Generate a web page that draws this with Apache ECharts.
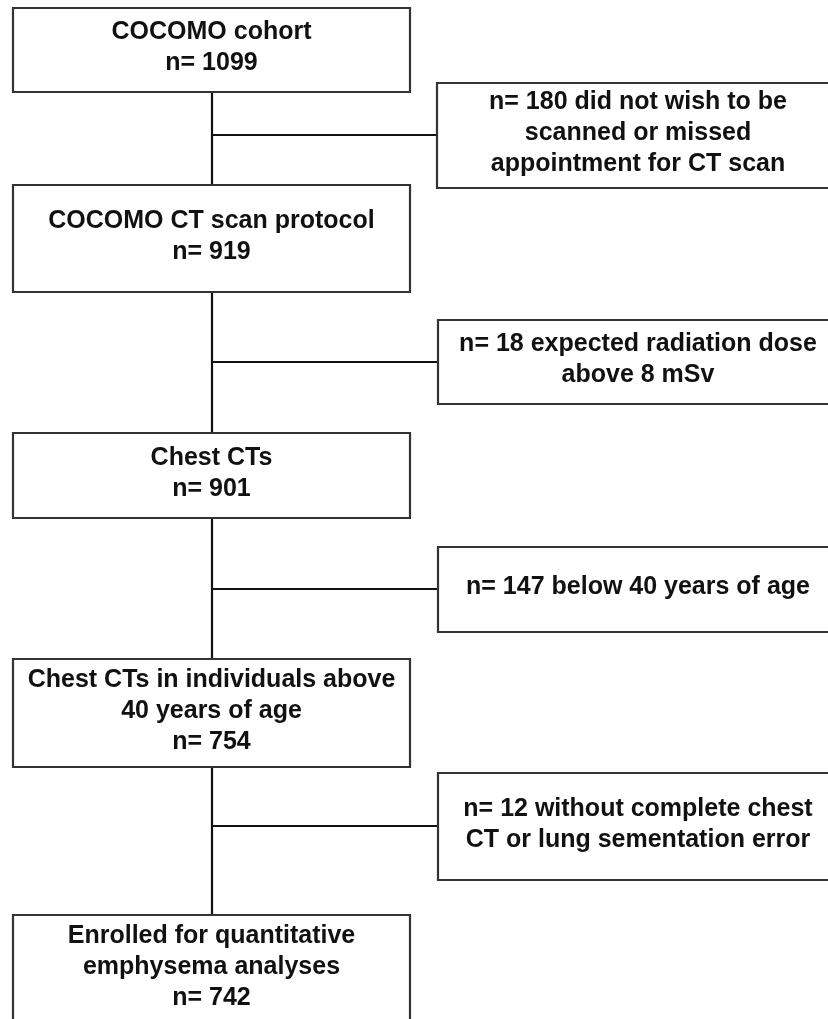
<!DOCTYPE html>
<html>
<head>
<meta charset="utf-8">
<script src="https://cdn.jsdelivr.net/npm/echarts@6/dist/echarts.min.js"></script>
<style>
  html, body { margin: 0; padding: 0; background: #fff; }
  #chart { width: 828px; height: 1019px; }
</style>
</head>
<body>
<div id="chart"></div>
<script>
// flow data
const stageTitles = [
  'COCOMO cohort',
  'COCOMO CT scan protocol',
  'Chest CTs',
  'Chest CTs in individuals above\n40 years of age',
  'Enrolled for quantitative\nemphysema analyses'
];
const stageCounts = [1099, 919, 901, 754, 742];
const excludedCounts = [180, 18, 147, 12];
const excludedReasons = [
  'did not wish to be\nscanned or missed\nappointment for CT scan',
  'expected radiation dose\nabove 8 mSv',
  'below 40 years of age',
  'without complete chest\nCT or lung sementation error'
];

// layout (pixel space of the page, y down)
const stageBoxes = [[13, 8, 410, 92], [13, 185, 410, 292], [13, 433, 410, 518], [13, 659, 410, 767], [13, 915, 410, 1030]];
const excludedBoxes = [[437, 83, 840, 188], [438, 320, 840, 404], [438, 547, 840, 632], [438, 773, 840, 880]];
const branchY = [135, 362, 589, 826];
const spineX = 212;

const chart = echarts.init(document.getElementById('chart'));

const boxData = [];
stageTitles.forEach((t, i) => {
  const b = stageBoxes[i];
  boxData.push([b[0], b[1], b[2], b[3], t + '\nn= ' + stageCounts[i]]);
});
excludedReasons.forEach((r, i) => {
  const b = excludedBoxes[i];
  const lines = r.split('\n');
  lines[0] = 'n= ' + excludedCounts[i] + ' ' + lines[0];
  boxData.push([b[0], b[1], b[2], b[3], lines.join('\n')]);
});

const linkData = [];
for (let i = 0; i < stageBoxes.length - 1; i++) {
  linkData.push([spineX, stageBoxes[i][3], spineX, stageBoxes[i + 1][1]]);
}
branchY.forEach((y, i) => {
  linkData.push([spineX, y, excludedBoxes[i][0], y]);
});

const option = {
  backgroundColor: '#fff',
  animation: false,
  grid: { left: 0, right: 0, top: 0, bottom: 0 },
  xAxis: { type: 'value', min: 0, max: 828, show: false },
  yAxis: { type: 'value', min: 0, max: 1019, inverse: true, show: false },
  series: [
    {
      type: 'custom',
      clip: false,
      data: linkData,
      renderItem: (params, api) => {
        const p0 = api.coord([api.value(0), api.value(1)]);
        const p1 = api.coord([api.value(2), api.value(3)]);
        return {
          type: 'line',
          shape: { x1: p0[0], y1: p0[1], x2: p1[0], y2: p1[1] },
          style: { stroke: '#111', lineWidth: 2.2 }
        };
      }
    },
    {
      type: 'custom',
      clip: false,
      data: boxData,
      renderItem: (params, api) => {
        const d = boxData[params.dataIndex];
        const p0 = api.coord([d[0], d[1]]);
        const p1 = api.coord([d[2], d[3]]);
        const cx = d[2] > 828 ? api.coord([638, 0])[0] : (p0[0] + p1[0]) / 2;
        const cy = (Math.min(p0[1], p1[1]) + Math.min(p1[1], 1019 + 6)) / 2 - 2;
        const textY = d[3] > 1019 ? api.coord([0, 967])[1] : cy;
        return {
          type: 'group',
          children: [
            {
              type: 'rect',
              shape: { x: p0[0], y: p0[1], width: p1[0] - p0[0], height: p1[1] - p0[1] },
              style: { fill: '#fff', stroke: '#333', lineWidth: 2.2 }
            },
            {
              type: 'text',
              x: cx,
              y: textY,
              style: {
                text: d[4],
                fill: '#111',
                font: 'bold 25px "Liberation Sans", Arial, sans-serif',
                lineHeight: 31,
                align: 'center',
                verticalAlign: 'middle'
              }
            }
          ]
        };
      }
    }
  ]
};

chart.setOption(option);
</script>
</body>
</html>
